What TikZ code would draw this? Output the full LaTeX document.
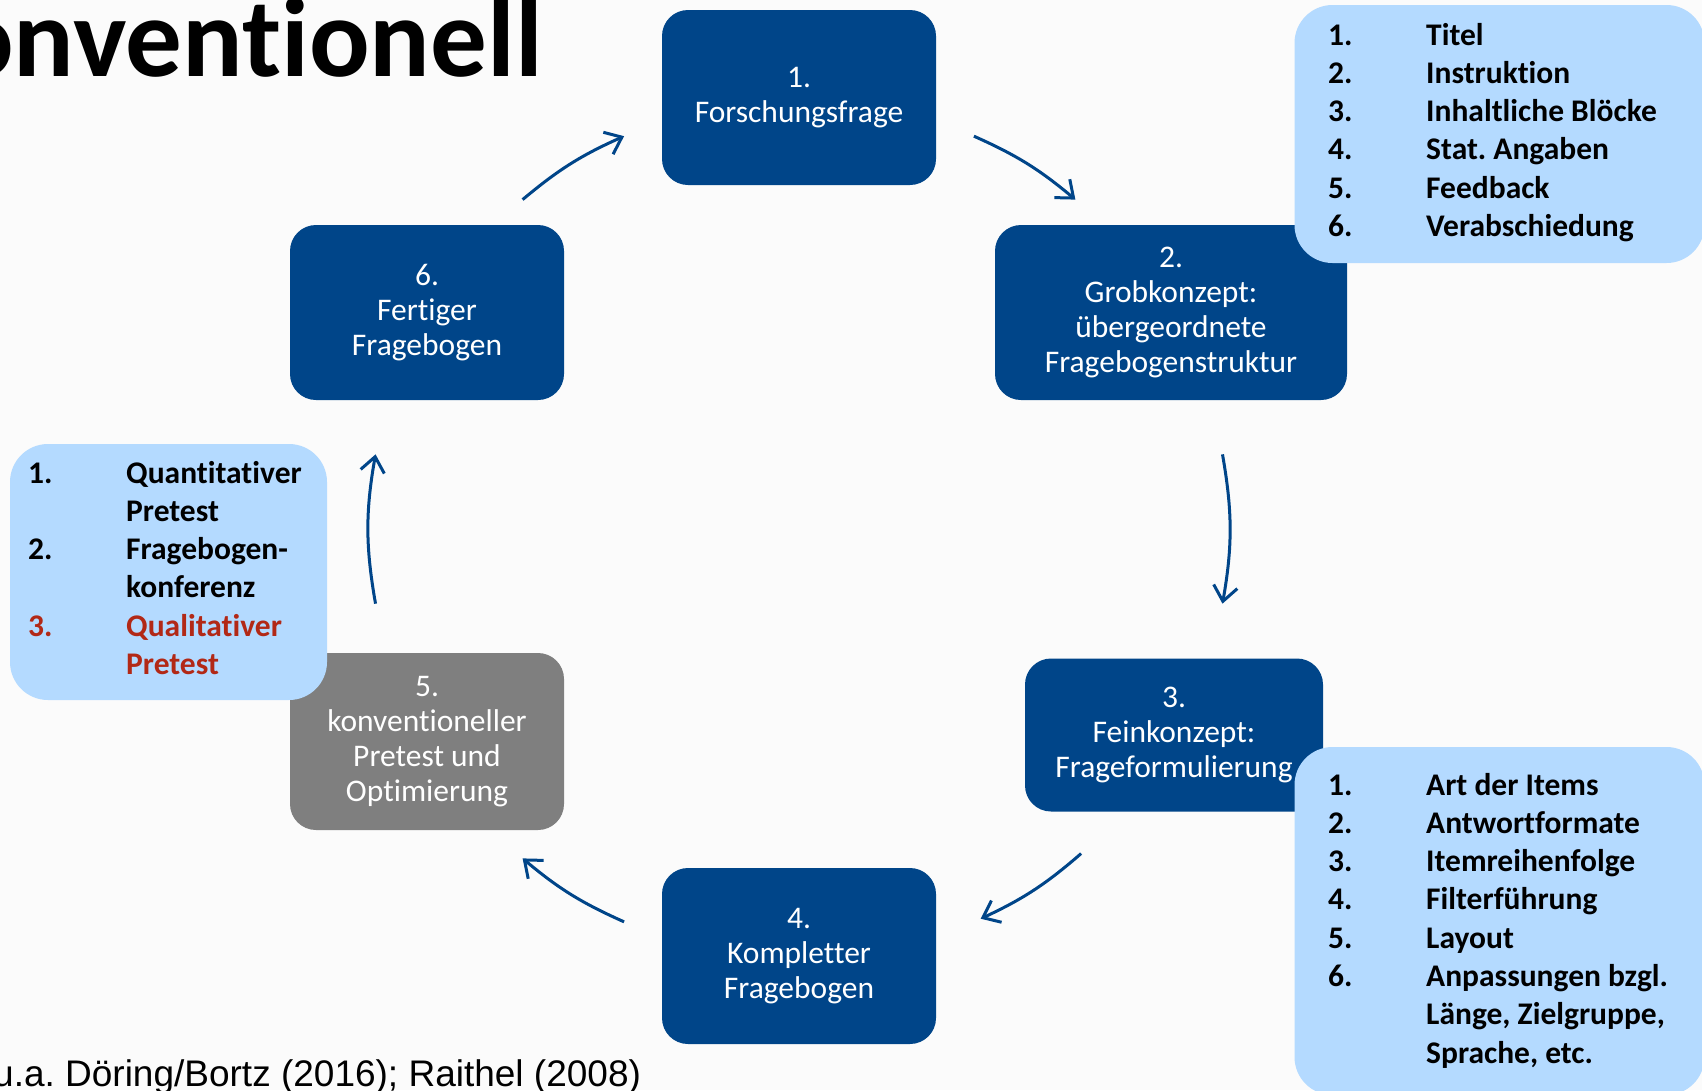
\documentclass[tikz,border=0pt]{standalone}
\usepackage{fontspec}
\setmainfont{Carlito}[Ligatures=NoCommon]
\newfontfamily\footfont{Liberation Sans}
\frenchspacing
\usetikzlibrary{arrows.meta, calc, positioning}
\definecolor{DarkBlue}{RGB}{0,69,137}
\definecolor{BoxGray}{RGB}{127,127,127}
\definecolor{LightBlue}{RGB}{180,218,255}
\definecolor{ListRed}{RGB}{178,40,22}
\definecolor{BgGray}{RGB}{251,251,251}

\begin{document}
\begin{tikzpicture}[x=1pt, y=1pt,
    stagebox/.style={fill=DarkBlue, text=white, rounded corners=26pt, align=center,
        minimum width=274pt, minimum height=175pt, inner sep=0pt,
        font=\fontsize{31.5}{35}\selectfont},
    listbox/.style={fill=LightBlue, rounded corners=38pt, inner sep=0pt},
    listtext/.style={anchor=base west, inner sep=0pt, font=\bfseries\fontsize{31.5}{38.3}\selectfont},
    flow/.style={DarkBlue, line width=3pt, -{Straight Barb[length=15pt, width=24pt]}}]

    \useasboundingbox (0,0) rectangle (1702,-1090);
    \clip (0,0) rectangle (1702,-1090);
    \fill[BgGray] (0,0) rectangle (1702,-1090);

    \node[anchor=base west, inner sep=0pt, font=\bfseries\fontsize{113}{123}\selectfont] (title) at (-47,-76) {onventionell};

    \node[stagebox] (s1) at (799,-97.5) {1.\\Forschungsfrage};
    \node[stagebox, minimum width=352pt] (s2) at (1171,-312.5) {2.\\Grobkonzept:\\übergeordnete\\Fragebogenstruktur};
    \node[stagebox, minimum width=298pt, minimum height=153pt] (s3) at (1174,-735) {3.\\Feinkonzept:\\Frageformulierung};
    \node[stagebox, minimum height=176pt] (s4) at (799,-956) {4.\\Kompletter\\Fragebogen};
    \node[stagebox, fill=BoxGray, minimum height=177pt] (s5) at (427,-741.5) {5.\\konventioneller\\Pretest und\\Optimierung};
    \node[stagebox] (s6) at (427,-312.5) {6.\\Fertiger\\Fragebogen};

    \coordinate (mid) at (799,-529);
    \foreach \a/\b/\bnd [count=\i] in {130/114/8, 66/50/8, 10/-10/10, -49/-65/8, -114/-130/8, 190/170/10} {
        \coordinate (from\i) at ($(mid)+(\a:430)$);
        \coordinate (to\i) at ($(mid)+(\b:430)$);
        \draw[flow] (from\i) to[bend left=\bnd] (to\i);
    }

    \node[listbox, minimum width=410pt, minimum height=258pt] (l1) at (1499.5,-134) {};
    \node[listtext] (l1text) at (1328,-45) {\begin{tabular}[t]{@{}p{98pt}@{}l@{}}
        1. & Titel\\
        2. & Instruktion\\
        3. & Inhaltliche Blöcke\\
        4. & Stat. Angaben\\
        5. & Feedback\\
        6. & Verabschiedung
    \end{tabular}};

    \node[listbox, minimum width=317pt, minimum height=256pt] (l2) at (168.5,-572) {};
    \node[listtext] (l2text) at (28,-483) {\begin{tabular}[t]{@{}p{98pt}@{}l@{}}
        1. & Quantitativer\\
           & Pretest\\
        2. & Fragebogen-\\
           & konferenz\\
        \textcolor{ListRed}{3.} & \textcolor{ListRed}{Qualitativer}\\
           & \textcolor{ListRed}{Pretest}
    \end{tabular}};

    \node[listbox, minimum width=410pt, minimum height=348pt] (l3) at (1499.5,-921) {};
    \node[listtext] (l3text) at (1328,-795) {\begin{tabular}[t]{@{}p{98pt}@{}l@{}}
        1. & Art der Items\\
        2. & Antwortformate\\
        3. & Itemreihenfolge\\
        4. & Filterführung\\
        5. & Layout\\
        6. & Anpassungen bzgl.\\
           & Länge, Zielgruppe,\\
           & Sprache, etc.
    \end{tabular}};

    \node[anchor=base west, inner sep=0pt, font=\footfont\fontsize{37}{40}\selectfont] (src) at (-7,-1086) {u.a. Döring/Bortz (2016); Raithel (2008)};
\end{tikzpicture}
\end{document}
